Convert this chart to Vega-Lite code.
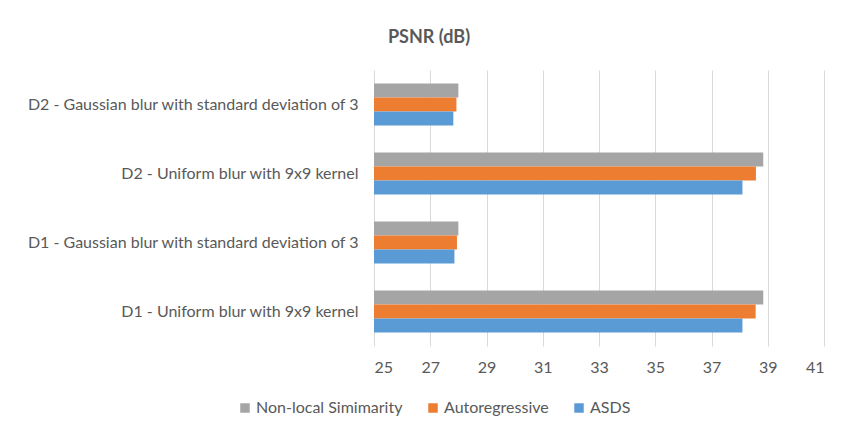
{
  "$schema": "https://vega.github.io/schema/vega-lite/v6.json",
  "autosize": {"type": "none"},
  "width": 450,
  "height": 276,
  "padding": {"left": 374, "top": 70, "right": 39, "bottom": 98},
  "background": "white",
  "title": {
    "text": "PSNR (dB)",
    "font": "Lato",
    "fontSize": 18,
    "fontWeight": "bold",
    "color": "#595959",
    "anchor": "middle",
    "dx": -170,
    "offset": 23
  },
  "data": {
    "values": [
      {"scenario": "D2 - Gaussian blur with standard deviation of 3", "method": "Non-local Simimarity", "psnr": 28.0},
      {"scenario": "D2 - Gaussian blur with standard deviation of 3", "method": "Autoregressive", "psnr": 27.93},
      {"scenario": "D2 - Gaussian blur with standard deviation of 3", "method": "ASDS", "psnr": 27.82},
      {"scenario": "D2 - Uniform blur with 9x9 kernel", "method": "Non-local Simimarity", "psnr": 38.84},
      {"scenario": "D2 - Uniform blur with 9x9 kernel", "method": "Autoregressive", "psnr": 38.58},
      {"scenario": "D2 - Uniform blur with 9x9 kernel", "method": "ASDS", "psnr": 38.1},
      {"scenario": "D1 - Gaussian blur with standard deviation of 3", "method": "Non-local Simimarity", "psnr": 28.0},
      {"scenario": "D1 - Gaussian blur with standard deviation of 3", "method": "Autoregressive", "psnr": 27.95},
      {"scenario": "D1 - Gaussian blur with standard deviation of 3", "method": "ASDS", "psnr": 27.86},
      {"scenario": "D1 - Uniform blur with 9x9 kernel", "method": "Non-local Simimarity", "psnr": 38.84},
      {"scenario": "D1 - Uniform blur with 9x9 kernel", "method": "Autoregressive", "psnr": 38.57},
      {"scenario": "D1 - Uniform blur with 9x9 kernel", "method": "ASDS", "psnr": 38.1}
    ]
  },
  "mark": {"type": "bar", "clip": true},
  "encoding": {
    "y": {
      "field": "scenario",
      "type": "nominal",
      "sort": [
        "D2 - Gaussian blur with standard deviation of 3",
        "D2 - Uniform blur with 9x9 kernel",
        "D1 - Gaussian blur with standard deviation of 3",
        "D1 - Uniform blur with 9x9 kernel"
      ],
      "scale": {"paddingInner": 0.39, "paddingOuter": 0.195},
      "axis": {
        "title": null,
        "ticks": false,
        "domain": false,
        "labelFont": "Lato",
        "labelFontSize": 16,
        "labelColor": "#595959",
        "labelPadding": 16,
        "labelLimit": 400
      }
    },
    "yOffset": {
      "field": "method",
      "type": "nominal",
      "sort": ["Non-local Simimarity", "Autoregressive", "ASDS"],
      "scale": {"paddingInner": 0, "paddingOuter": 0}
    },
    "x": {
      "field": "psnr",
      "type": "quantitative",
      "scale": {"domain": [25, 41], "nice": false, "zero": false},
      "axis": {
        "title": null,
        "values": [25, 27, 29, 31, 33, 35, 37, 39, 41],
        "ticks": false,
        "domain": false,
        "grid": true,
        "gridColor": "#d9d9d9",
        "gridWidth": 1,
        "labelFont": "Lato",
        "labelFontSize": 16,
        "labelColor": "#595959",
        "labelPadding": 13
      }
    },
    "color": {
      "field": "method",
      "type": "nominal",
      "sort": ["Non-local Simimarity", "Autoregressive", "ASDS"],
      "scale": {
        "domain": ["Non-local Simimarity", "Autoregressive", "ASDS"],
        "range": ["#a5a5a5", "#ed7d31", "#5b9bd5"]
      },
      "legend": {
        "title": null,
        "orient": "none",
        "direction": "horizontal",
        "legendX": -137,
        "legendY": 330,
        "symbolType": "square",
        "symbolSize": 90,
        "symbolStrokeWidth": 0,
        "labelFont": "Lato",
        "labelFontSize": 16,
        "labelColor": "#595959",
        "columnPadding": 22,
        "labelOffset": 3
      }
    }
  },
  "config": {
    "view": {"stroke": null}
  }
}
